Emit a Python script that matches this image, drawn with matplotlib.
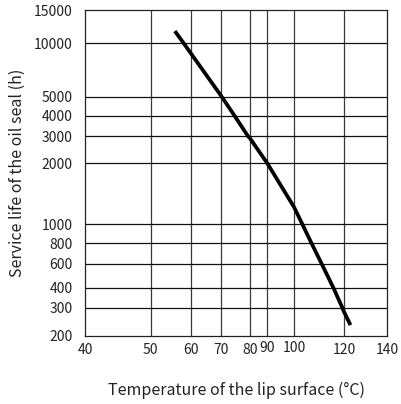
import numpy as np
import matplotlib

matplotlib.use("Agg")
import matplotlib.pyplot as plt
import matplotlib.transforms as mtransforms

plt.rcParams["font.family"] = ["Noto Sans CJK JP", "DejaVu Sans"]

# chart data (points where the curve meets the grid)
temperature = [56.0, 58.2, 60.0, 70.1, 74.6, 79.4, 80.0, 90.0, 100.0, 103.3, 107.0, 111.0, 115.7, 119.3, 120.0, 123.0]
service_life = [11600, 10000, 8750, 5000, 4000, 3000, 2925, 2000, 1214, 1000, 800, 600, 400, 300, 282, 233]

x_ticks = [40, 50, 60, 70, 80, 90, 100, 120, 140]
y_ticks = [200, 300, 400, 600, 800, 1000, 2000, 3000, 4000, 5000, 10000, 15000]

# the printed chart uses hand-spaced gridlines; calibrate the axes to them
x_cal = np.array([0.0, 65.7, 106.0, 136.3, 164.7, 182.3, 209.0, 259.0, 302.3])
y_cal = np.array([0.0, 28.2, 48.2, 72.2, 92.5, 111.7, 172.4, 199.5, 220.2, 239.2, 292.4, 325.7])
y_log = np.log10(y_ticks)


def x_fwd(v):
    return np.interp(v, x_ticks, x_cal)


def x_inv(p):
    return np.interp(p, x_cal, x_ticks)


def y_fwd(v):
    return np.interp(np.log10(np.clip(v, 1e-9, None)), y_log, y_cal)


def y_inv(p):
    return 10 ** np.interp(p, y_cal, y_log)


fig = plt.figure(figsize=(4.02, 4.04), dpi=100)
ax = fig.add_axes([85 / 402, (404 - 335.7) / 404, 302.3 / 402, 325.7 / 404])
ax.set_xscale("function", functions=(x_fwd, x_inv))
ax.set_yscale("function", functions=(y_fwd, y_inv))
ax.set_xlim(40, 140)
ax.set_ylim(200, 15000)

ax.set_xticks(x_ticks)
ax.set_xticklabels([str(t) for t in x_ticks])
ax.set_yticks(y_ticks)
ax.set_yticklabels([str(t) for t in y_ticks])
ax.minorticks_off()
ax.tick_params(axis="both", length=0, labelsize=10, colors="#222222")
ax.tick_params(axis="y", pad=9)
ax.tick_params(axis="x", pad=5)

# 90 and 100 sit slightly higher in the original
shift = mtransforms.ScaledTranslation(0, 2 / 100, fig.dpi_scale_trans)
for lab in ax.get_xticklabels():
    if lab.get_text() in ("90", "100"):
        lab.set_transform(lab.get_transform() + shift)

for t in x_ticks[1:-1]:
    ax.axvline(t, color="#3a3a3a", lw=0.9, zorder=1)
for t in y_ticks[1:-1]:
    ax.axhline(t, color="#111111", lw=0.9, zorder=1)
for spine in ax.spines.values():
    spine.set_color("#222222")
    spine.set_linewidth(0.9)

ax.plot(temperature, service_life, color="black", lw=2.7, solid_capstyle="butt",
        solid_joinstyle="round", zorder=3)

ax.set_xlabel("Temperature of the lip surface (°C)", fontsize=11.5, labelpad=18, color="#222222")
ax.set_ylabel("Service life of the oil seal (h)", fontsize=11.5, labelpad=6, color="#222222")

fig.savefig("out.png", dpi=100)
plt.close(fig)
